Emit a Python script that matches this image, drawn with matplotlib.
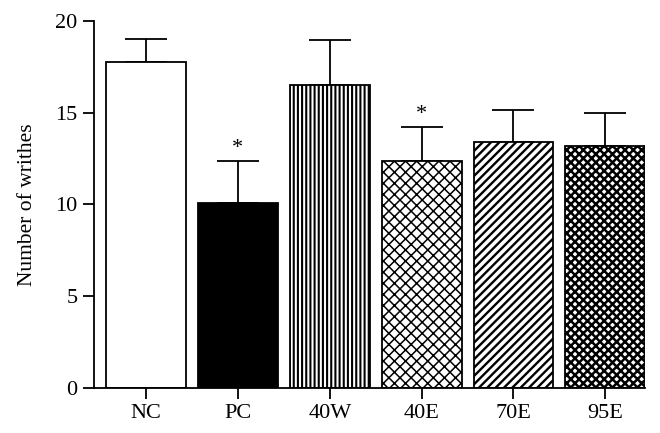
import matplotlib.pyplot as plt
import matplotlib as mpl

plt.rcParams['font.family'] = ['Liberation Serif', 'DejaVu Serif']

groups = ["NC", "PC", "40W", "40E", "70E", "95E"]
means = [17.75, 10.1, 16.5, 12.35, 13.4, 13.2]
errors = [1.25, 2.25, 2.45, 1.85, 1.75, 1.8]
hatches = ["", "", "||||", "xxx", "////", "xxxx"]
hatch_widths = [1, 1, 1.5, 1.1, 1.7, 1.8]
colors = ["white", "black", "white", "white", "white", "white"]
starred = ["PC", "40E"]

fig = plt.figure(figsize=(6.6, 4.33), dpi=100)
ax = fig.add_axes([0.142, 0.104, 0.835, 0.8475])

x = list(range(len(groups)))
for i in x:
    mpl.rcParams['hatch.linewidth'] = hatch_widths[i]
    ax.bar(x[i], means[i], width=0.87, color=colors[i], edgecolor="black",
           linewidth=1.3, hatch=hatches[i] or None, zorder=2)
ax.errorbar(x, means, yerr=[[0] * len(errors), errors], fmt="none", ecolor="black",
            elinewidth=1.3, capsize=15, capthick=1.3, zorder=1)

for i, g in enumerate(groups):
    if g in starred:
        ax.text(i, means[i] + errors[i] + 0.2, "*", ha="center", va="bottom", fontsize=16)

ax.set_xlim(-0.57, 5.43)
ax.set_ylim(0, 20)
ax.set_yticks([0, 5, 10, 15, 20])
ax.set_xticks(x)
ax.set_xticklabels(groups)
ax.set_ylabel("Number of writhes", fontsize=15.5, labelpad=13)
ax.tick_params(axis="both", labelsize=16, width=1.3, length=8, direction="out")
ax.spines["top"].set_visible(False)
ax.spines["right"].set_visible(False)
ax.spines["left"].set_linewidth(1.3)
ax.spines["bottom"].set_linewidth(1.3)

fig.savefig("out.png", dpi=100)
